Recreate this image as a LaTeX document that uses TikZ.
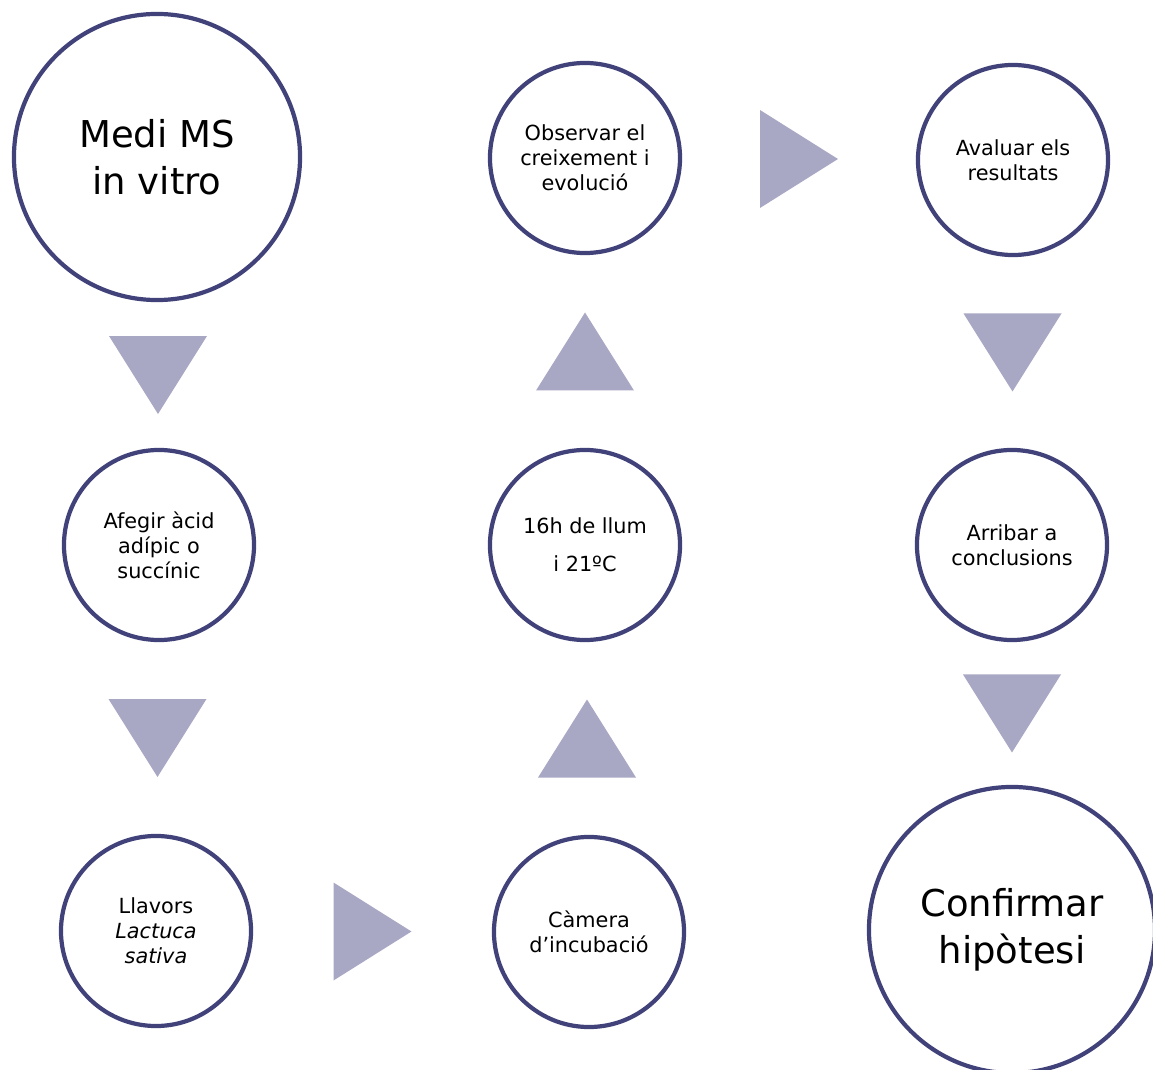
\documentclass[tikz,border=0pt]{standalone}
\usepackage{fontspec}
\setmainfont{DejaVu Sans}
\usetikzlibrary{calc}
\definecolor{ringblue}{RGB}{66,66,122}
\definecolor{trigrey}{RGB}{169,168,196}

\begin{document}
\begin{tikzpicture}[x=0.025cm,y=-0.025cm,
  stepcircle/.style={circle,draw=ringblue,line width=3pt,minimum size=4.75cm,inner sep=0pt,align=center,font=\fontsize{14.8}{17.8}\selectfont},
  bigcircle/.style={stepcircle,minimum size=7.15cm,font=\fontsize{26.3}{33.4}\selectfont},
  tri/.style={fill=trigrey}]
%half base and half height of the triangles
\newcommand*{\Tb}{49}
\newcommand*{\Th}{39}
\newcommand*{\TriDown}[1]{\fill[tri] (#1) ++(-\Tb,-\Th) -- ++(2*\Tb,0) -- ++(-\Tb,2*\Th) -- cycle;}
\newcommand*{\TriUp}[1]{\fill[tri] (#1) ++(-\Tb,\Th) -- ++(2*\Tb,0) -- ++(-\Tb,-2*\Th) -- cycle;}
\newcommand*{\TriRight}[1]{\fill[tri] (#1) ++(-\Th,-\Tb) -- ++(0,2*\Tb) -- ++(2*\Th,-\Tb) -- cycle;}
\useasboundingbox (0,0) rectangle (1153,1070);
%left column
\node[bigcircle] (medi) at (157,157) {Medi MS\\in vitro};
\node[stepcircle] (afegir) at (159,545) {Afegir àcid\\adípic o\\succínic};
\node[stepcircle] (llavors) at (156,931) {Llavors\\\textit{Lactuca}\\\textit{sativa}};
%middle column
\node[stepcircle] (camera) at (589,932) {Càmera\\d’incubació};
\node[stepcircle] (llum) at (585,545) {16h de llum\\[9pt]i 21ºC};
\node[stepcircle] (observar) at (585,158) {Observar el\\creixement i\\evolució};
%right column
\node[stepcircle] (avaluar) at (1013,160) {Avaluar els\\resultats};
\node[stepcircle] (arribar) at (1012,545) {Arribar a\\conclusions};
\node[bigcircle] (confirmar) at (1012,930) {Confirmar\\hipòtesi};
%arrows in the gaps
\coordinate (g1) at ($(medi.south)!0.5!(afegir.north)$);
\coordinate (g2) at ($(afegir.south)!0.5!(llavors.north)$);
\coordinate (g3) at ($(llavors.east)!0.5!(camera.west)$);
\coordinate (g4) at ($(camera.north)!0.5!(llum.south)$);
\coordinate (g5) at ($(llum.north)!0.5!(observar.south)$);
\coordinate (g6) at ($(observar.east)!0.5!(avaluar.west)$);
\coordinate (g7) at ($(avaluar.south)!0.5!(arribar.north)$);
\coordinate (g8) at ($(arribar.south)!0.5!(confirmar.north)$);
\TriDown{g1}
\TriDown{g2}
\TriRight{g3}
\TriUp{g4}
\TriUp{g5}
\TriRight{g6}
\TriDown{g7}
\TriDown{g8}
\end{tikzpicture}
\end{document}
